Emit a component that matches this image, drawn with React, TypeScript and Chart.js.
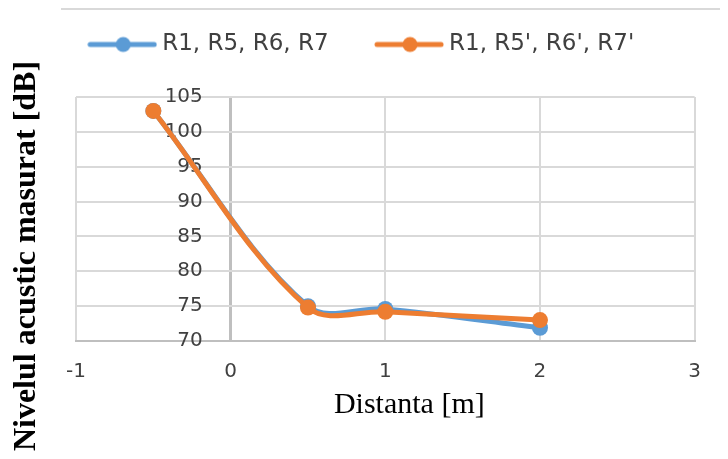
import React, { useEffect, useRef } from 'react';
import { Chart, registerables } from 'chart.js';

Chart.register(...registerables);

// ---- data ----
const seriesLabels = ['R1, R5, R6, R7', "R1, R5', R6', R7'"];
const seriesColors = ['#5b9bd5', '#ed7d31'];
const distances = [-0.5, 0.5, 1, 2];
const levelsA = [103, 75, 74.6, 71.9];
const levelsB = [103, 74.8, 74.2, 73];
const xMin = -1;
const xMax = 3;
const xStep = 1;
const yMin = 70;
const yMax = 105;
const yStep = 5;
const xTitle = 'Distanta [m]';
const yTitle = 'Nivelul acustic masurat [dB]';

const toPoints = (xs: number[], ys: number[]) => xs.map((x, i) => ({ x, y: ys[i] }));

function legendMarker(color: string): HTMLCanvasElement {
  const c = document.createElement('canvas');
  c.width = 70;
  c.height = 18;
  const g = c.getContext('2d')!;
  g.strokeStyle = color;
  g.lineWidth = 5;
  g.lineCap = 'round';
  g.beginPath();
  g.moveTo(3, 9);
  g.lineTo(67, 9);
  g.stroke();
  g.fillStyle = color;
  g.beginPath();
  g.arc(36, 9, 7.5, 0, Math.PI * 2);
  g.fill();
  return c;
}

const decorations = {
  id: 'decorations',
  afterDraw(chart: any) {
    const { ctx, chartArea } = chart;
    ctx.save();
    ctx.strokeStyle = '#d9d9d9';
    ctx.lineWidth = 2;
    ctx.beginPath();
    ctx.moveTo(53, 1);
    ctx.lineTo(chart.width, 1);
    ctx.stroke();

    ctx.fillStyle = '#000000';
    ctx.textAlign = 'center';
    ctx.textBaseline = 'middle';
    ctx.font = 'normal 30px "Liberation Serif"';
    ctx.fillText(xTitle, (chartArea.left + chartArea.right) / 2 + 24, 397);

    ctx.font = 'bold 32px "Liberation Serif"';
    ctx.translate(19, 248);
    ctx.rotate(-Math.PI / 2);
    ctx.fillText(yTitle, 0, 0);
    ctx.restore();
  },
};

const hiddenAxis = (position: string, size: number, horizontal: boolean) => ({
  type: 'linear',
  position,
  display: true,
  grid: { display: false },
  border: { display: false },
  ticks: { display: false },
  afterFit: (s: any) => {
    if (horizontal) s.height = size;
    else s.width = size;
  },
});

export default function App() {
  const ref = useRef<HTMLCanvasElement>(null);

  useEffect(() => {
    if (!ref.current) return;
    Chart.defaults.font.family = '"DejaVu Sans"';
    Chart.defaults.color = '#404040';
    const chart = new Chart(ref.current, {
      type: 'line',
      data: {
        datasets: [
          {
            label: seriesLabels[0],
            data: toPoints(distances, levelsA),
            borderColor: seriesColors[0],
            backgroundColor: seriesColors[0],
            borderWidth: 5,
            pointRadius: 8,
            pointHoverRadius: 8,
            pointBorderWidth: 0,
            tension: 0.35,
            order: 2,
          },
          {
            label: seriesLabels[1],
            data: toPoints(distances, levelsB),
            borderColor: seriesColors[1],
            backgroundColor: seriesColors[1],
            borderWidth: 5,
            pointRadius: 8,
            pointHoverRadius: 8,
            pointBorderWidth: 0,
            tension: 0.35,
            order: 1,
          },
        ],
      },
      options: {
        responsive: false,
        animation: false,
        layout: { padding: { left: 0, right: 0, top: -27, bottom: 48 } },
        plugins: {
          tooltip: { enabled: false },
          legend: {
            position: 'top',
            labels: {
              usePointStyle: true,
              pointStyleWidth: 57,
              padding: 52,
              font: { size: 23 },
              color: '#404040',
              generateLabels: (ch: any) =>
                ch.data.datasets.map((ds: any, i: number) => ({
                  text: ds.label,
                  pointStyle: legendMarker(ds.borderColor),
                  fillStyle: ds.borderColor,
                  strokeStyle: ds.borderColor,
                  lineWidth: 0,
                  hidden: false,
                  datasetIndex: i,
                  fontColor: '#404040',
                })),
            },
          },
        },
        scales: {
          x: {
            type: 'linear',
            position: 'bottom',
            min: xMin,
            max: xMax,
            ticks: { stepSize: xStep, padding: 19, font: { size: 20 }, color: '#404040' },
            grid: {
              color: (c: any) => (c.tick && c.tick.value === 0 ? '#bfbfbf' : '#d9d9d9'),
              lineWidth: (c: any) => (c.tick && c.tick.value === 0 ? 3 : 2),
              drawTicks: false,
            },
            border: { color: '#bfbfbf', width: 2 },
          },
          xTop: hiddenAxis('top', 31, true),
          yLeft: hiddenAxis('left', 68, false),
          yRight: hiddenAxis('right', 25, false),
          y: {
            type: 'linear',
            position: { x: -0.18 },
            min: yMin,
            max: yMax,
            ticks: { stepSize: yStep, autoSkip: false, padding: 0, font: { size: 20 }, color: '#404040' },
            grid: { color: '#d9d9d9', lineWidth: 2, drawTicks: false },
            border: { display: false },
          },
        },
      },
      plugins: [decorations],
    });
    return () => chart.destroy();
  }, []);

  return <canvas ref={ref} width={712} height={443} style={{ display: 'block' }} />;
}
